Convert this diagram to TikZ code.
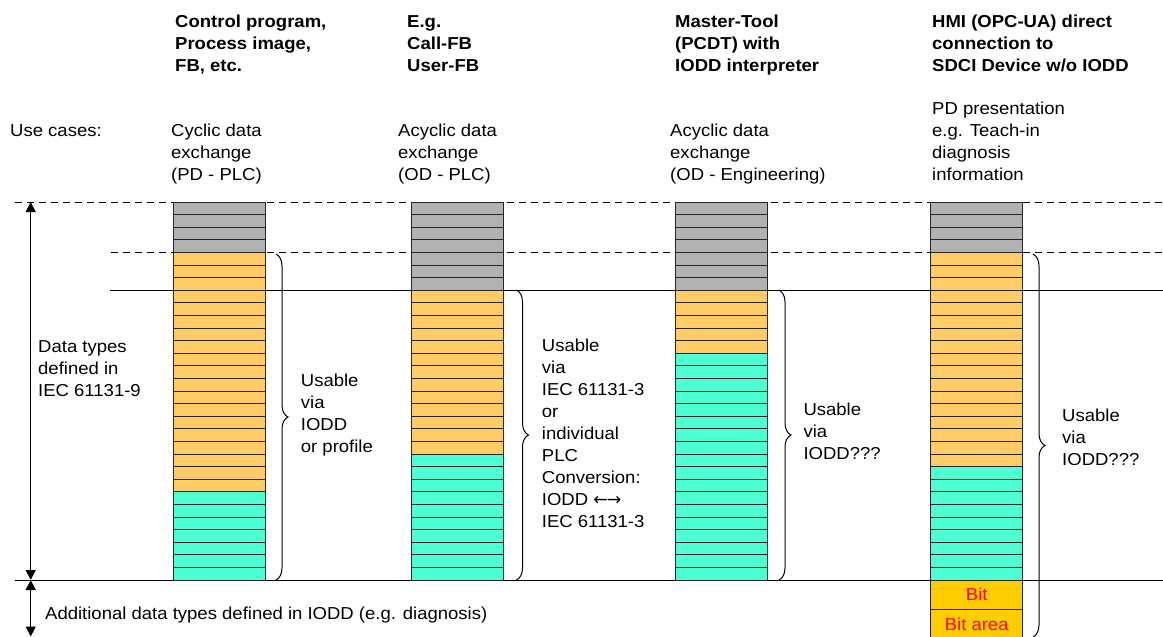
\documentclass[tikz,border=0pt]{standalone}
\usepackage{fontspec}
\setmainfont{Liberation Sans}[FakeStretch=1.07]
\newfontfamily\arrowfont{DejaVu Sans}
\usetikzlibrary{arrows.meta,decorations.pathreplacing}

\definecolor{grayfill}{RGB}{178,178,178}
\definecolor{orangefill}{RGB}{255,204,102}
\definecolor{greenfill}{RGB}{77,255,210}
\definecolor{bitfill}{RGB}{255,204,0}

% one column of 30 data-type stripes: left x, grey / orange / green counts
\newcommand\datacolumn[4]{%
  \foreach \k in {1,...,#2}
    \draw[stripe,fill=grayfill] (#1,{202+(\k-1)*12.6}) rectangle ++(92,12.6);
  \foreach \k in {1,...,#3}
    \draw[stripe,fill=orangefill] (#1,{202+(#2+\k-1)*12.6}) rectangle ++(92,12.6);
  \foreach \k in {1,...,#4}
    \draw[stripe,fill=greenfill] (#1,{202+(#2+#3+\k-1)*12.6}) rectangle ++(92,12.6);
}
\newcommand\fstrut{\rule{0pt}{16pt}}

\begin{document}
\begin{tikzpicture}[x=1pt,y=-1pt,
  txt/.style={font=\fontsize{17.3}{22}\selectfont,align=left,anchor=north west,inner sep=0pt},
  head/.style={txt,font=\fontsize{17.3}{22}\selectfont\bfseries},
  stripe/.style={draw=black!85,line width=0.9pt},
  level/.style={line width=1pt},
  dashlevel/.style={line width=1pt,dash pattern=on 7pt off 5pt},
  span/.style={line width=1.1pt,{Triangle[length=10pt,width=10pt]}-{Triangle[length=10pt,width=10pt]}},
  usebrace/.style={line width=1pt,decorate,decoration={brace,amplitude=12pt}},
  bitbox/.style={draw=black!85,line width=0.9pt,fill=bitfill,text=red,
    minimum width=92pt,minimum height=29.3pt,inner sep=0pt,
    font=\fontsize{17.3}{22}\selectfont}]
\useasboundingbox (0,0) rectangle (1163,637);

% reference levels
\coordinate (topL) at (15,202);    \coordinate (topR) at (1163,202);
\coordinate (midL) at (111,252);   \coordinate (midR) at (1163,252);
\coordinate (iecL) at (110,290);   \coordinate (iecR) at (1163,290);
\coordinate (botL) at (15,580);    \coordinate (botR) at (1163,580);
\draw[dashlevel] (topL) -- (topR);
\draw[dashlevel] (midL) -- (midR);
\draw[level] (iecL) -- (iecR);
\draw[level] (botL) -- (botR);

% data type columns
\datacolumn{173}{4}{19}{7}
\datacolumn{411.5}{7}{13}{10}
\datacolumn{675.7}{7}{5}{18}
\datacolumn{930.7}{4}{17}{9}

% IODD-only data types
\node[bitbox] (bit) at (976.7,594.65) {Bit};
\node[bitbox] (bitarea) at (976.7,623.95) {Bit area};

% range arrows on the left
\coordinate (aTop) at (30.7,202);
\coordinate (aMid) at (30.7,580);
\coordinate (aBot) at (30.7,636.5);
\draw[span] (aTop) -- (aMid);
\draw[span] (aMid) -- (aBot);

% headings
\node[head] (h1) at (175,{27-16}) {\fstrut Control program,\\Process image,\\FB, etc.};
\node[head] (h2) at (407,{27-16}) {\fstrut E.g.\\Call-FB\\User-FB};
\node[head] (h3) at (675,{27-16}) {\fstrut Master-Tool\\(PCDT) with\\IODD interpreter};
\node[head] (h4) at (932,{27-16}) {\fstrut HMI (OPC-UA) direct\\connection to\\SDCI Device w/o IODD};

% use cases
\node[txt] (uc) at (10,{136.5-16}) {\fstrut Use cases:};
\node[txt] (u1) at (171,{136.5-16}) {\fstrut Cyclic data\\exchange\\(PD - PLC)};
\node[txt] (u2) at (398,{136.5-16}) {\fstrut Acyclic data\\exchange\\(OD - PLC)};
\node[txt] (u3) at (670,{136.5-16}) {\fstrut Acyclic data\\exchange\\(OD - Engineering)};
\node[txt] (u4) at (932,{114.5-16}) {\fstrut PD presentation\\e.g. Teach-in\\diagnosis\\information};

% left annotations
\node[txt] (dt) at (38,{352.5-16}) {\fstrut Data types\\defined in\\IEC 61131-9};
\node[txt] (add) at (45,{619.3-16}) {\fstrut Additional data types defined in IODD (e.g. diagnosis)};

% braces and usability notes
\coordinate (b1t) at (276,254);  \coordinate (b1b) at (276,580);
\coordinate (b2t) at (516.5,290); \coordinate (b2b) at (516.5,580);
\coordinate (b3t) at (779,290);  \coordinate (b3b) at (779,580);
\coordinate (b4t) at (1033,254); \coordinate (b4b) at (1033,637);
\draw[usebrace] (b1t) -- (b1b);
\draw[usebrace] (b2t) -- (b2b);
\draw[usebrace] (b3t) -- (b3b);
\draw[usebrace] (b4t) -- (b4b);

\node[txt] (n1) at (300.7,{386.7-16}) {\fstrut Usable\\via\\IODD\\or profile};
\node[txt] (n2) at (541.7,{351.7-16}) {\fstrut Usable\\via\\IEC 61131-3\\or\\individual\\PLC\\Conversion:\\IODD {\arrowfont ←\kern-1pt→}\\IEC 61131-3};
\node[txt] (n3) at (803.3,{415-16}) {\fstrut Usable\\via\\IODD???};
\node[txt] (n4) at (1062,{421-16}) {\fstrut Usable\\via\\IODD???};
\end{tikzpicture}
\end{document}
